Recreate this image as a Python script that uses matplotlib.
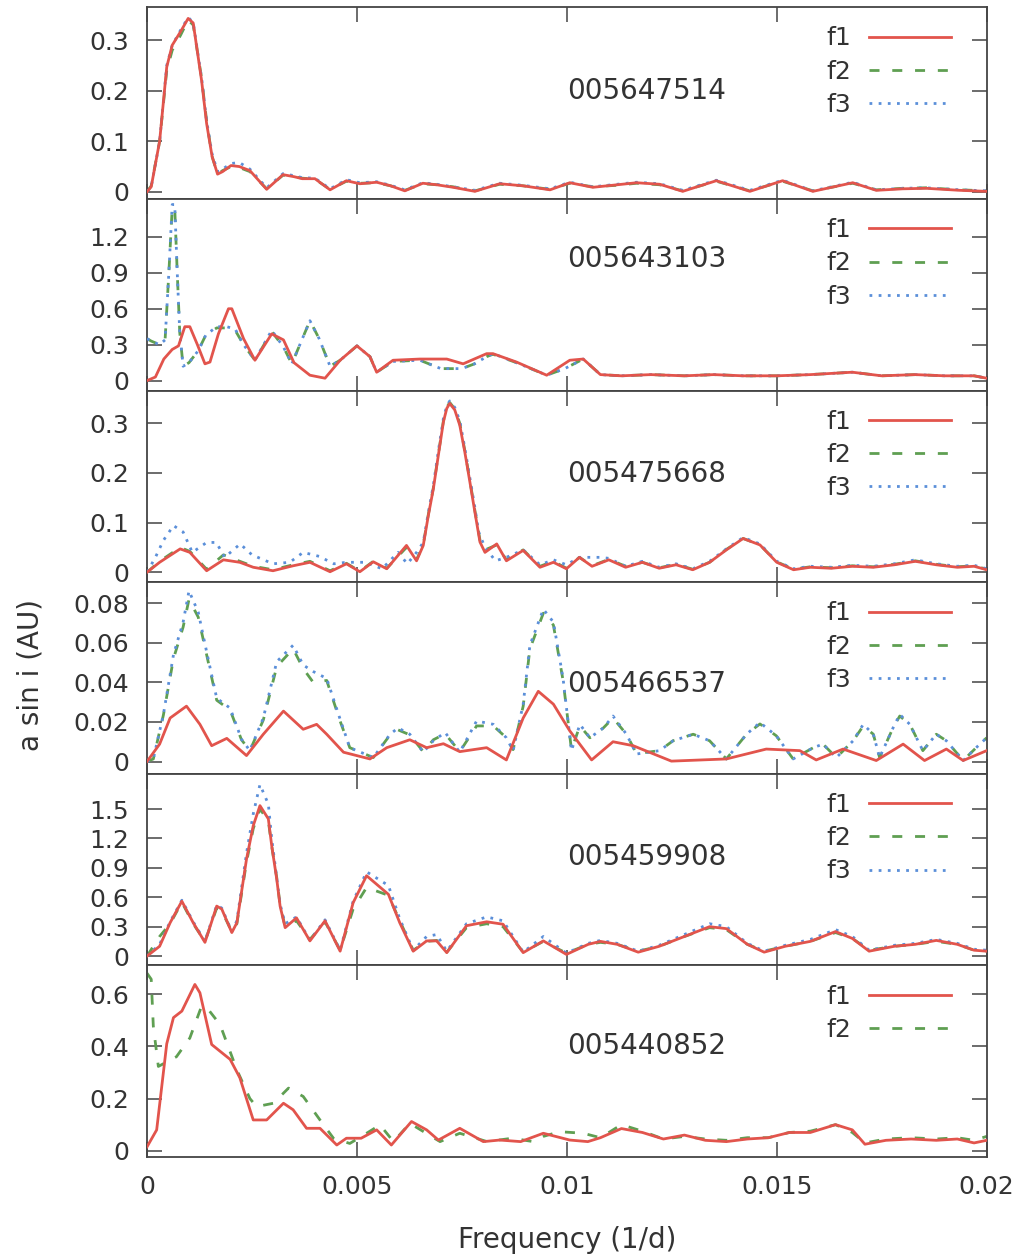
import matplotlib
matplotlib.use('Agg')
import matplotlib.pyplot as plt
import numpy as np

plt.rcParams['font.family'] = ['DejaVu Sans']
plt.rcParams['savefig.dpi'] = 100

# ---- data (frequency in 1/d, a sin i in AU) ----
names = ['005647514', '005643103', '005475668', '005466537', '005459908', '005440852']

# panel 1 : 005647514
p1_f1_x = [0, 0.0001, 0.0003, 0.00047, 0.0006, 0.0008, 0.00098, 0.0011, 0.0013, 0.00142, 0.00155, 0.00168,
           0.0018, 0.002, 0.0022, 0.00245, 0.00285, 0.00324, 0.0035, 0.0037, 0.004, 0.00436, 0.00475, 0.00507,
           0.00547, 0.0058, 0.00614, 0.00657, 0.0069, 0.00729, 0.00781, 0.0084, 0.00895, 0.0096, 0.01007,
           0.01062, 0.0112, 0.01166, 0.01221, 0.01276, 0.01356, 0.01436, 0.01514, 0.01586, 0.01681, 0.01737,
           0.018, 0.01856, 0.01936, 0.02]
p1_f1_y = [0, 0.01, 0.1, 0.247, 0.29, 0.317, 0.343, 0.334, 0.22, 0.135, 0.07, 0.035,
           0.04, 0.052, 0.05, 0.042, 0.005, 0.034, 0.03, 0.026, 0.026, 0.004, 0.022, 0.016,
           0.019, 0.012, 0.002, 0.017, 0.014, 0.009, 0.001, 0.016, 0.012, 0.004, 0.018,
           0.009, 0.014, 0.018, 0.015, 0.001, 0.022, 0.001, 0.022, 0.001, 0.018, 0.003,
           0.006, 0.007, 0.003, 0.001]
p1_f2_y = [0, 0.012, 0.1, 0.24, 0.28, 0.31, 0.34, 0.33, 0.225, 0.14, 0.07, 0.035,
           0.042, 0.05, 0.048, 0.04, 0.006, 0.033, 0.03, 0.027, 0.025, 0.005, 0.021, 0.017,
           0.018, 0.012, 0.003, 0.016, 0.014, 0.01, 0.002, 0.015, 0.012, 0.005, 0.017,
           0.01, 0.013, 0.017, 0.014, 0.002, 0.021, 0.002, 0.021, 0.002, 0.017, 0.004,
           0.007, 0.008, 0.004, 0.002]
p1_f3_y = [0, 0.01, 0.1, 0.25, 0.29, 0.32, 0.345, 0.335, 0.225, 0.14, 0.075, 0.04,
           0.045, 0.056, 0.058, 0.045, 0.008, 0.036, 0.032, 0.028, 0.027, 0.006, 0.024, 0.018,
           0.02, 0.013, 0.004, 0.018, 0.015, 0.01, 0.003, 0.017, 0.013, 0.006, 0.019,
           0.01, 0.015, 0.019, 0.016, 0.003, 0.023, 0.003, 0.023, 0.002, 0.019, 0.004,
           0.007, 0.008, 0.004, 0.002]

# panel 2 : 005643103
p2_f1_x = [0, 0.0002, 0.0004, 0.0006, 0.00075, 0.0009, 0.00102, 0.0012, 0.00138, 0.0015, 0.0017, 0.00194,
           0.00202, 0.0023, 0.00257, 0.00297, 0.00325, 0.0035, 0.00388, 0.00424, 0.0046, 0.005, 0.00531,
           0.00547, 0.00586, 0.0065, 0.00714, 0.00753, 0.00809, 0.00824, 0.0088, 0.00952, 0.01007, 0.01039,
           0.0108, 0.0113, 0.012, 0.0128, 0.0135, 0.0142, 0.015, 0.0158, 0.0168, 0.0175, 0.0183, 0.019,
           0.0197, 0.02]
p2_f1_y = [0, 0.03, 0.18, 0.26, 0.29, 0.45, 0.45, 0.3, 0.14, 0.155, 0.39, 0.6,
           0.6, 0.35, 0.17, 0.39, 0.34, 0.15, 0.045, 0.02, 0.17, 0.29, 0.2,
           0.07, 0.17, 0.18, 0.18, 0.14, 0.225, 0.225, 0.155, 0.045, 0.17, 0.18,
           0.05, 0.04, 0.05, 0.04, 0.05, 0.04, 0.04, 0.05, 0.07, 0.04, 0.05, 0.04,
           0.04, 0.02]
p2_f23_x = [0, 0.0001, 0.0003, 0.00043, 0.00052, 0.0006, 0.00066, 0.00072, 0.00078, 0.00086, 0.001,
            0.00122, 0.0014, 0.00166, 0.0019, 0.0021, 0.0023, 0.00257, 0.00297, 0.00325, 0.00345, 0.0037,
            0.00388, 0.0041, 0.00436, 0.0046, 0.005, 0.00531, 0.00547, 0.00586, 0.0065, 0.007, 0.0075,
            0.0078, 0.00809, 0.00824, 0.0088, 0.00952, 0.00995, 0.01039, 0.0108, 0.0113, 0.012, 0.0128,
            0.0135, 0.0142, 0.015, 0.0158, 0.0168, 0.0175, 0.0183, 0.019, 0.0197, 0.02]
p2_f2_y = [0.35, 0.33, 0.3, 0.34, 0.9, 1.44, 1.44, 0.9, 0.4, 0.12, 0.15,
           0.25, 0.38, 0.44, 0.44, 0.42, 0.3, 0.17, 0.41, 0.28, 0.14, 0.35,
           0.5, 0.35, 0.12, 0.17, 0.29, 0.2, 0.07, 0.16, 0.17, 0.1, 0.1,
           0.14, 0.2, 0.22, 0.15, 0.045, 0.1, 0.18, 0.05, 0.04, 0.05, 0.04,
           0.05, 0.04, 0.04, 0.05, 0.07, 0.04, 0.05, 0.04, 0.04, 0.02]
p2_f3_y = [0.35, 0.33, 0.3, 0.34, 0.9, 1.47, 1.47, 0.9, 0.4, 0.12, 0.15,
           0.25, 0.38, 0.45, 0.45, 0.43, 0.3, 0.17, 0.42, 0.28, 0.14, 0.35,
           0.5, 0.35, 0.12, 0.17, 0.29, 0.2, 0.07, 0.16, 0.17, 0.1, 0.1,
           0.14, 0.2, 0.225, 0.15, 0.045, 0.1, 0.18, 0.05, 0.04, 0.05, 0.04,
           0.05, 0.04, 0.04, 0.05, 0.07, 0.04, 0.05, 0.04, 0.04, 0.02]

# panel 3 : 005475668
p3_f1_x = [0, 0.0003, 0.00079, 0.00102, 0.00142, 0.00182, 0.00221, 0.00253, 0.003, 0.00348, 0.00388,
           0.00436, 0.00475, 0.00507, 0.00539, 0.00571, 0.00618, 0.00642, 0.00658, 0.0067, 0.00682, 0.00694,
           0.00706, 0.00714, 0.00721, 0.00733, 0.00745, 0.00757, 0.00769, 0.00781, 0.00793, 0.00805,
           0.00833, 0.00856, 0.00896, 0.00936, 0.00968,
           0.00999, 0.0103, 0.0106, 0.011, 0.0114, 0.0118, 0.0122, 0.0126, 0.013, 0.0134, 0.0138, 0.0142,
           0.0146, 0.015, 0.0154, 0.0158, 0.0163, 0.0168, 0.0173, 0.0178, 0.0183, 0.0188, 0.0193, 0.0197, 0.02]
p3_f1_y = [0, 0.02, 0.047, 0.04, 0.003, 0.025, 0.02, 0.01, 0.003, 0.013, 0.02,
           0.001, 0.017, 0.001, 0.021, 0.007, 0.054, 0.023, 0.054, 0.114, 0.168, 0.236,
           0.303, 0.33, 0.34, 0.327, 0.296, 0.242, 0.182, 0.121, 0.061, 0.04,
           0.057, 0.023, 0.044, 0.01, 0.02,
           0.007, 0.03, 0.012, 0.025, 0.01, 0.02, 0.008, 0.015, 0.005, 0.02, 0.045, 0.068,
           0.055, 0.02, 0.005, 0.01, 0.008, 0.012, 0.01, 0.015, 0.022, 0.015, 0.01, 0.012, 0.005]
p3_f2_y = [0, 0.022, 0.05, 0.042, 0.006, 0.035, 0.022, 0.012, 0.005, 0.015, 0.022,
           0.003, 0.018, 0.002, 0.022, 0.008, 0.05, 0.025, 0.056, 0.116, 0.17, 0.238,
           0.305, 0.332, 0.342, 0.329, 0.3, 0.245, 0.185, 0.124, 0.065, 0.045,
           0.055, 0.025, 0.045, 0.012, 0.022,
           0.008, 0.03, 0.013, 0.026, 0.012, 0.02, 0.009, 0.016, 0.006, 0.02, 0.046, 0.068,
           0.055, 0.021, 0.006, 0.011, 0.009, 0.013, 0.011, 0.016, 0.023, 0.016, 0.011, 0.013, 0.006]
p3_f3_x = [0, 0.0002, 0.00039, 0.00063, 0.00086, 0.00108, 0.00142, 0.00165, 0.00185, 0.00222, 0.0025,
           0.003, 0.0034, 0.00372, 0.0041, 0.00445, 0.00475, 0.0052, 0.0056, 0.00598, 0.0062, 0.00642,
           0.00658, 0.0067, 0.00682, 0.00694, 0.00706, 0.00714, 0.00721, 0.00733, 0.00745, 0.00757,
           0.00769, 0.00781, 0.0079, 0.00805, 0.0083, 0.00856, 0.00896,
           0.00936, 0.00968, 0.00999, 0.0103, 0.0108, 0.011, 0.0114, 0.0118, 0.0122, 0.0126, 0.013, 0.0134,
           0.0138, 0.0142, 0.0146, 0.015, 0.0154, 0.0158, 0.0163, 0.0168, 0.0173, 0.0178, 0.0183, 0.0188,
           0.0193, 0.0197, 0.02]
p3_f3_y = [0, 0.03, 0.064, 0.094, 0.081, 0.04, 0.06, 0.06, 0.03, 0.057, 0.035,
           0.017, 0.02, 0.04, 0.032, 0.017, 0.02, 0.02, 0.007, 0.04, 0.017, 0.04,
           0.06, 0.12, 0.175, 0.245, 0.31, 0.335, 0.345, 0.332, 0.305, 0.25,
           0.19, 0.13, 0.081, 0.05, 0.023, 0.03, 0.045,
           0.015, 0.025, 0.015, 0.03, 0.03, 0.028, 0.012, 0.022, 0.01, 0.017, 0.007, 0.022,
           0.047, 0.07, 0.057, 0.022, 0.007, 0.012, 0.01, 0.014, 0.012, 0.017, 0.025, 0.017,
           0.012, 0.014, 0.007]

# panel 4 : 005466537
p4_f1_x = [0, 0.0003, 0.00055, 0.00094, 0.00126, 0.00154, 0.0019, 0.00237, 0.00277, 0.00325, 0.00372,
           0.00404, 0.00428, 0.00468, 0.00531, 0.00571, 0.00626, 0.00666, 0.00706, 0.00745, 0.00809,
           0.00856, 0.00896, 0.00932, 0.00968, 0.01007, 0.01059, 0.0111, 0.01158, 0.01249, 0.0138,
           0.01475, 0.01555, 0.01594, 0.01658, 0.01737, 0.01801, 0.01852, 0.01904, 0.01944, 0.02]
p4_f1_y = [0, 0.0088, 0.022, 0.028, 0.0188, 0.008, 0.0117, 0.003, 0.0138, 0.0255, 0.0163,
           0.0188, 0.0138, 0.0047, 0.0013, 0.007, 0.011, 0.007, 0.009, 0.005, 0.007,
           0.0008, 0.022, 0.0355, 0.029, 0.0155, 0.0008, 0.01, 0.008, 0.0002, 0.0013,
           0.0063, 0.0055, 0.0008, 0.0063, 0.0005, 0.0088, 0.0005, 0.0063, 0.0005, 0.0055]
p4_f23_x = [0, 0.00015, 0.00039, 0.00063, 0.00086, 0.001, 0.00122, 0.00142, 0.00166, 0.00198, 0.00225,
            0.00245, 0.00277, 0.00309, 0.00348, 0.00372, 0.00396, 0.00428, 0.00459, 0.00483, 0.00539,
            0.00579, 0.00598, 0.00626, 0.00658, 0.00682, 0.0071, 0.00745, 0.00785, 0.00825, 0.00856,
            0.00872, 0.00896, 0.00912, 0.00944, 0.00968, 0.00991, 0.01011, 0.01031, 0.01055, 0.01087,
            0.0111, 0.01142, 0.01166, 0.01221, 0.01253, 0.01301, 0.0134, 0.0138, 0.01428, 0.0146, 0.01499,
            0.01539, 0.01587, 0.0161, 0.01642, 0.01682, 0.01706, 0.0173, 0.01745, 0.01777, 0.01793, 0.01817,
            0.01848, 0.0188, 0.01904, 0.01944, 0.01975, 0.02]
p4_f2_y = [0, 0.0013, 0.0235, 0.052, 0.068, 0.082, 0.073, 0.054, 0.031, 0.026, 0.011,
           0.0055, 0.021, 0.048, 0.057, 0.047, 0.04, 0.041, 0.021, 0.007, 0.002,
           0.0135, 0.016, 0.0135, 0.005, 0.011, 0.014, 0.005, 0.018, 0.018, 0.012,
           0.006, 0.028, 0.057, 0.075, 0.069, 0.041, 0.006, 0.018, 0.012, 0.017,
           0.022, 0.0138, 0.004, 0.0055, 0.0105, 0.0138, 0.0105, 0.0013, 0.0138, 0.019, 0.013,
           0.0013, 0.007, 0.0088, 0.002, 0.0105, 0.018, 0.0138, 0.002, 0.017, 0.023, 0.0188,
           0.0055, 0.0138, 0.0105, 0.0005, 0.007, 0.012]
p4_f3_y = [0, 0.0013, 0.0238, 0.054, 0.0705, 0.0863, 0.0755, 0.0555, 0.032, 0.027, 0.0113,
           0.0055, 0.022, 0.0505, 0.0588, 0.0488, 0.0455, 0.042, 0.022, 0.007, 0.002,
           0.0138, 0.017, 0.0138, 0.0047, 0.0105, 0.0147, 0.0047, 0.0205, 0.0188, 0.012,
           0.0055, 0.029, 0.0588, 0.077, 0.0705, 0.042, 0.0055, 0.0188, 0.012, 0.017,
           0.023, 0.0138, 0.0038, 0.0055, 0.0105, 0.0138, 0.0105, 0.0013, 0.0138, 0.0197, 0.013,
           0.0013, 0.007, 0.0088, 0.002, 0.0105, 0.0188, 0.0138, 0.002, 0.017, 0.0238, 0.0188,
           0.0055, 0.0138, 0.0105, 0.0005, 0.007, 0.012]

# panel 5 : 005459908
p5_f1_x = [0, 0.0003, 0.00055, 0.00083, 0.0011, 0.00138, 0.00166, 0.00178, 0.00202, 0.00214, 0.00237,
           0.00253, 0.00269, 0.00289, 0.00297, 0.00309, 0.00317, 0.00329, 0.00356, 0.00388, 0.00424, 0.0046,
           0.00491, 0.00523,
           0.00575, 0.00602, 0.00634, 0.00666, 0.0069, 0.00714, 0.00761, 0.00809, 0.00848, 0.00896,
           0.00944, 0.00999, 0.01051, 0.0108, 0.0112, 0.0117, 0.0122, 0.0128, 0.0134, 0.0138, 0.0143,
           0.0147, 0.0152, 0.0158, 0.0164, 0.0168, 0.0172, 0.0178, 0.0183, 0.0188, 0.0193, 0.0197, 0.02]
p5_f1_y = [0, 0.1, 0.34, 0.56, 0.34, 0.14, 0.51, 0.48, 0.24, 0.34, 0.99,
           1.33, 1.535, 1.4, 1.126, 0.785, 0.51, 0.29, 0.39, 0.155, 0.36, 0.05,
           0.545, 0.82,
           0.63, 0.34, 0.05, 0.155, 0.155, 0.035, 0.31, 0.35, 0.325, 0.035,
           0.155, 0.017, 0.12, 0.15, 0.12, 0.04, 0.1, 0.2, 0.3, 0.28, 0.12,
           0.04, 0.1, 0.15, 0.25, 0.18, 0.05, 0.1, 0.12, 0.16, 0.12, 0.06, 0.05]
p5_f2_y = [0, 0.2, 0.33, 0.55, 0.33, 0.15, 0.49, 0.46, 0.25, 0.33, 0.96,
           1.3, 1.5, 1.38, 1.12, 0.8, 0.52, 0.3, 0.36, 0.17, 0.35, 0.06,
           0.48, 0.7,
           0.62, 0.36, 0.06, 0.15, 0.16, 0.04, 0.29, 0.33, 0.3, 0.04,
           0.15, 0.03, 0.12, 0.14, 0.12, 0.05, 0.1, 0.2, 0.29, 0.27, 0.12,
           0.05, 0.1, 0.15, 0.24, 0.18, 0.06, 0.1, 0.12, 0.15, 0.12, 0.06, 0.05]
p5_f3_y = [0, 0.12, 0.35, 0.57, 0.35, 0.15, 0.52, 0.49, 0.25, 0.36, 1.05,
           1.45, 1.75, 1.55, 1.2, 0.8, 0.53, 0.33, 0.4, 0.16, 0.37, 0.06,
           0.56, 0.86,
           0.72, 0.38, 0.06, 0.2, 0.22, 0.05, 0.33, 0.4, 0.36, 0.04,
           0.2, 0.03, 0.13, 0.16, 0.13, 0.05, 0.11, 0.22, 0.33, 0.3, 0.13,
           0.05, 0.11, 0.17, 0.27, 0.2, 0.06, 0.11, 0.13, 0.17, 0.13, 0.07, 0.06]

# panel 6 : 005440852 (f1, f2 only)
p6_f1_x = [0, 0.00023, 0.00047, 0.00063, 0.00083, 0.00114, 0.00126, 0.00154, 0.00198, 0.00221, 0.00253,
           0.00285, 0.00325, 0.00348, 0.0038, 0.00412, 0.00452, 0.00475, 0.0051, 0.00547, 0.00582,
           0.0063, 0.00666, 0.00694, 0.00745, 0.00801, 0.0084, 0.0089, 0.00944, 0.01007, 0.0105, 0.0108,
           0.0113, 0.0118, 0.0123, 0.0128, 0.0133, 0.0138, 0.0143, 0.0148, 0.0153, 0.0158, 0.0164, 0.0168,
           0.0171, 0.0176, 0.0182, 0.0188, 0.0193, 0.0197, 0.02]
p6_f1_y = [0.015, 0.08, 0.41, 0.51, 0.535, 0.637, 0.605, 0.407, 0.35, 0.28, 0.118,
           0.118, 0.182, 0.157, 0.086, 0.086, 0.022, 0.048, 0.048, 0.08, 0.022,
           0.112, 0.08, 0.041, 0.086, 0.035, 0.041, 0.035, 0.067, 0.041, 0.035, 0.05,
           0.085, 0.07, 0.045, 0.06, 0.04, 0.035, 0.045, 0.05, 0.07, 0.07, 0.1, 0.08,
           0.025, 0.04, 0.045, 0.04, 0.045, 0.03, 0.04]
p6_f2_x = [0, 0.0001, 0.00015, 0.00027, 0.0007, 0.00102, 0.0013, 0.00146, 0.00174, 0.00214, 0.00245,
           0.00261, 0.00301, 0.00337, 0.00372, 0.00412, 0.00444, 0.00483, 0.00523, 0.00555, 0.00587,
           0.00626, 0.00698, 0.00745, 0.0081, 0.0087, 0.0092, 0.00944, 0.00983, 0.01039, 0.0108, 0.0113,
           0.0118, 0.0123, 0.0128, 0.0133, 0.0138, 0.0143, 0.0148, 0.0153, 0.0158, 0.0164, 0.0168, 0.0171,
           0.0176, 0.0182, 0.0188, 0.0193, 0.0197, 0.02]
p6_f2_y = [0.68, 0.657, 0.477, 0.323, 0.36, 0.432, 0.554, 0.541, 0.483, 0.31, 0.2,
           0.169, 0.182, 0.24, 0.208, 0.118, 0.048, 0.028, 0.067, 0.099, 0.035,
           0.105, 0.035, 0.067, 0.035, 0.048, 0.035, 0.055, 0.073, 0.067, 0.05, 0.1,
           0.075, 0.045, 0.055, 0.045, 0.04, 0.05, 0.05, 0.07, 0.075, 0.1, 0.07, 0.03,
           0.045, 0.05, 0.045, 0.05, 0.04, 0.055]

series = [
    [(p1_f1_x, p1_f1_y), (p1_f1_x, p1_f2_y), (p1_f1_x, p1_f3_y)],
    [(p2_f1_x, p2_f1_y), (p2_f23_x, p2_f2_y), (p2_f23_x, p2_f3_y)],
    [(p3_f1_x, p3_f1_y), (p3_f1_x, p3_f2_y), (p3_f3_x, p3_f3_y)],
    [(p4_f1_x, p4_f1_y), (p4_f23_x, p4_f2_y), (p4_f23_x, p4_f3_y)],
    [(p5_f1_x, p5_f1_y), (p5_f1_x, p5_f2_y), (p5_f1_x, p5_f3_y)],
    [(p6_f1_x, p6_f1_y), (p6_f2_x, p6_f2_y)],
]

ylims = [(-0.014, 0.365), (-0.083, 1.517), (-0.02, 0.366), (-0.0062, 0.0907), (-0.095, 1.86), (-0.024, 0.71)]
yticks = [[0, 0.1, 0.2, 0.3], [0, 0.3, 0.6, 0.9, 1.2], [0, 0.1, 0.2, 0.3],
          [0, 0.02, 0.04, 0.06, 0.08], [0, 0.3, 0.6, 0.9, 1.2, 1.5], [0, 0.2, 0.4, 0.6]]
ytick_labels = [['0', '0.1', '0.2', '0.3'], ['0', '0.3', '0.6', '0.9', '1.2'], ['0', '0.1', '0.2', '0.3'],
                ['0', '0.02', '0.04', '0.06', '0.08'], ['0', '0.3', '0.6', '0.9', '1.2', '1.5'],
                ['0', '0.2', '0.4', '0.6']]
xticks = [0, 0.005, 0.01, 0.015, 0.02]
xtick_labels = ['0', '0.005', '0.01', '0.015', '0.02']
name_ypos = [0.565, 0.686, 0.565, 0.47, 0.565, 0.58]

labels = ['f1', 'f2', 'f3']
colors = ['#e2544c', '#5f9f52', '#5b8fd9']
styles = [dict(ls='-'), dict(ls=(0, (3.6, 4.6))), dict(ls=(0, (1.0, 2.3)))]
zorders = [4, 2, 3]
txt = '#333333'
edge = '#444444'

fig, axes = plt.subplots(6, 1, sharex=True, figsize=(10.31, 12.59))
fig.subplots_adjust(left=0.1426, right=0.957, top=0.9942, bottom=0.081, hspace=0)

for i, ax in enumerate(axes):
    for k, (xs, ys) in enumerate(series[i]):
        ax.plot(xs, ys, color=colors[k], lw=2.0, label=labels[k], zorder=zorders[k],
                dash_capstyle='butt', solid_joinstyle='round', **styles[k])
    ax.set_xlim(0, 0.02)
    ax.set_ylim(*ylims[i])
    ax.set_yticks(yticks[i])
    ax.set_yticklabels(ytick_labels[i])
    ax.set_xticks(xticks)
    ax.tick_params(direction='in', length=11, width=1.1, color=edge, top=True, right=True,
                   labelsize=18, labelcolor=txt, pad=13)
    for sp in ax.spines.values():
        sp.set_color(edge)
        sp.set_linewidth(1.3)
    ax.text(0.5, name_ypos[i], names[i], transform=ax.transAxes, ha='left', va='center',
            fontsize=20, color=txt)
    leg = ax.legend(loc='upper right', bbox_to_anchor=(0.958, 0.9), markerfirst=False, frameon=False,
                    fontsize=18, handlelength=3.3, handletextpad=0.7, labelspacing=0.37,
                    borderpad=0, borderaxespad=0)
    for t in leg.get_texts():
        t.set_color(txt)

axes[-1].set_xticklabels(xtick_labels)

fig.text(0.5505, 0.015, 'Frequency (1/d)', ha='center', va='center', fontsize=20, color=txt)
fig.text(0.03, 1 - 675 / 1259, 'a sin i (AU)', ha='center', va='center', rotation=90,
         fontsize=20, color=txt)

fig.savefig('out.png', dpi=100)
